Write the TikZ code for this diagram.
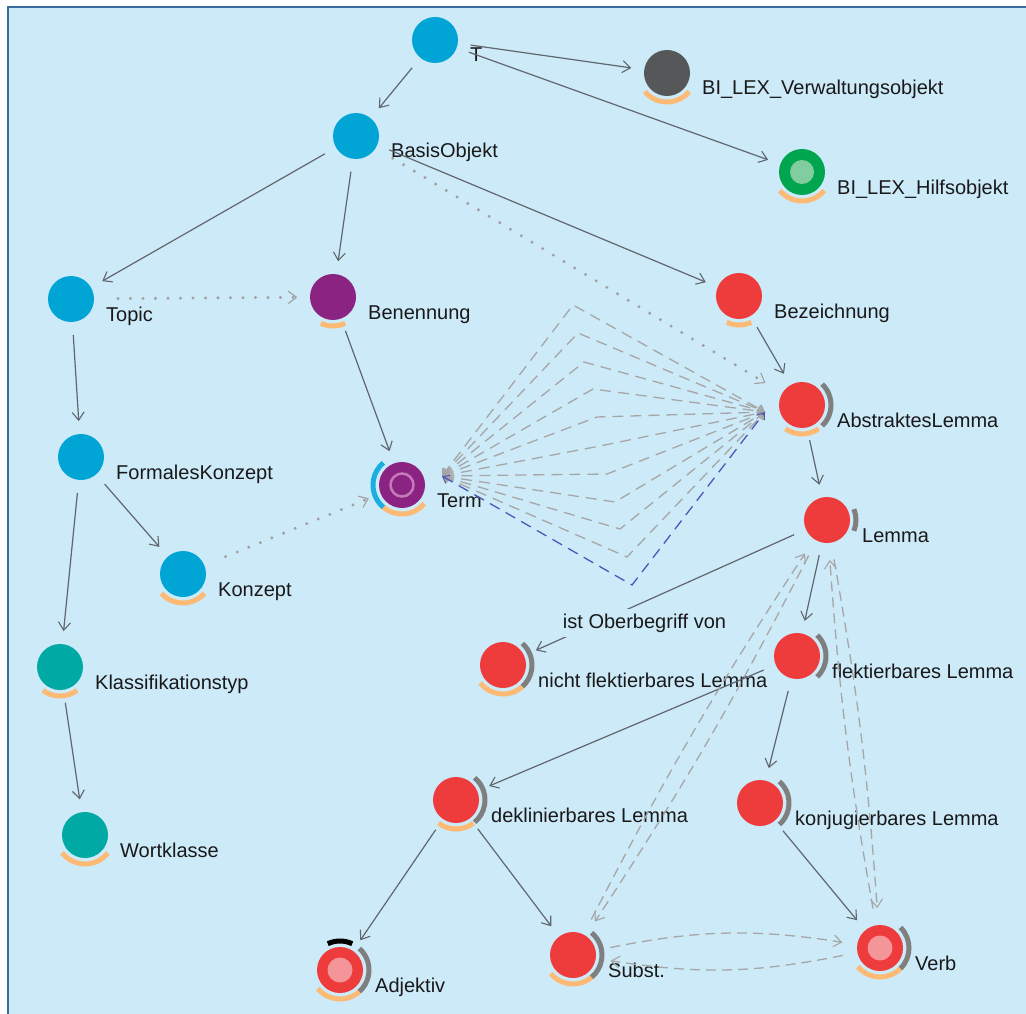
\documentclass[tikz,border=0pt]{standalone}
\usepackage{fontspec}
\setmainfont{Liberation Sans}
\usetikzlibrary{arrows.meta}
\definecolor{bgc}{HTML}{CDEAF9}
\definecolor{bordc}{HTML}{3A6E9E}
\definecolor{cBlue}{HTML}{00A5D5}
\definecolor{cDark}{HTML}{555758}
\definecolor{cGreen}{HTML}{00A54F}
\definecolor{cGreenIn}{HTML}{80CDA0}
\definecolor{cPurple}{HTML}{8B2382}
\definecolor{cRing}{HTML}{C47AB8}
\definecolor{cRed}{HTML}{EE3B3B}
\definecolor{cTeal}{HTML}{00A9A4}
\definecolor{cPink}{HTML}{F4959A}
\definecolor{aOrange}{HTML}{FDBA74}
\definecolor{aGray}{HTML}{7F7F7F}
\definecolor{aBlue}{HTML}{1AAFE0}
\definecolor{edgec}{HTML}{60666E}
\definecolor{dotc}{HTML}{A0A0A0}
\definecolor{dashc}{HTML}{A6A6A6}
\definecolor{dashblue}{HTML}{4C58B8}
\newcommand\lbfont{\fontsize{20}{24}\selectfont}
\newcommand\mkobj[5]{%
  \node[obj,fill=#4] (#1) at (#2,#3) {};
  \node[lbl] (#1-l) at (#2+35,#3+22) {#5};}
\newcommand\decarc[4]{%
  \draw[line width=5pt,#4] ([shift={(#2-#3:29)}]#1.center) arc[start angle=#2-#3, end angle=#2+#3, radius=29];}
\begin{document}
\begin{tikzpicture}[x=1pt,y=-1pt,
  obj/.style={circle,minimum size=46pt,inner sep=0pt,outer sep=13pt,draw=none},
  lbl/.style={anchor=base west,inner sep=0pt,font=\lbfont,text=black!90},
  tipA/.style={-{Straight Barb[length=8pt,width=12pt,line width=1.1pt]}},
  edge/.style={draw=edgec,line width=1.2pt,tipA},
  dotedge/.style={draw=dotc,line width=3.3pt,line cap=round,dash pattern=on 0pt off 12.5pt,
     -{Straight Barb[length=8pt,width=12pt,line width=1.1pt,round]}},
  fan/.style={draw=dashc,line width=1.3pt,dash pattern=on 11pt off 7pt,
     {Straight Barb[length=6pt,width=9pt,line width=1pt]}-{Straight Barb[length=6pt,width=9pt,line width=1pt]}},
  dashedge/.style={draw=dashc,line width=1.3pt,dash pattern=on 10pt off 6pt,
     -{Straight Barb[length=8pt,width=12pt,line width=1.1pt]},shorten >=4pt,shorten <=4pt},
  oblbl/.style={fill=bgc,font=\lbfont,text=black!90,inner xsep=6pt,inner ysep=5pt,anchor=base}
]
\useasboundingbox (0,0) rectangle (1026,1014);
\fill[white] (0,0) rectangle (1026,1014);
\fill[bgc] (8,7) rectangle (1026,1014);
\draw[bordc,line width=2pt] (8,1014) -- (8,7) -- (1026,7);

% nodes
\mkobj{T}{435}{40}{cBlue}{T}
\mkobj{VO}{667}{73}{cDark}{BI\_LEX\_Verwaltungsobjekt}
\mkobj{HO}{802}{172}{cGreen}{BI\_LEX\_Hilfsobjekt}
\mkobj{BO}{356}{136}{cBlue}{BasisObjekt}
\mkobj{TO}{71}{299}{cBlue}{Topic}
\mkobj{BE}{333}{297}{cPurple}{Benennung}
\mkobj{BZ}{739}{296}{cRed}{Bezeichnung}
\mkobj{AL}{802}{405}{cRed}{AbstraktesLemma}
\mkobj{FK}{81}{457}{cBlue}{FormalesKonzept}
\mkobj{TE}{402}{485}{cPurple}{Term}
\mkobj{KO}{183}{574}{cBlue}{Konzept}
\mkobj{LE}{827}{520}{cRed}{Lemma}
\mkobj{KT}{60}{667}{cTeal}{Klassifikationstyp}
\mkobj{WK}{85}{835}{cTeal}{Wortklasse}
\mkobj{NF}{503}{665}{cRed}{nicht flektierbares Lemma}
\mkobj{FL}{797}{656}{cRed}{flektierbares Lemma}
\mkobj{DL}{456}{800}{cRed}{deklinierbares Lemma}
\mkobj{KL}{760}{803}{cRed}{konjugierbares Lemma}
\mkobj{AD}{340}{970}{cRed}{Adjektiv}
\mkobj{SU}{573}{955}{cRed}{Subst.}
\mkobj{VE}{880}{948}{cRed}{Verb}

% inner marks
\fill[cGreenIn] (HO.center) circle (12);
\draw[cRing,line width=2.5pt] (TE.center) circle (11.5);
\fill[cPink] (AD.center) circle (12.5);
\fill[cPink] (VE.center) circle (12.5);

% orange arcs (below)
\decarc{VO}{90}{50}{aOrange}
\decarc{HO}{90}{50}{aOrange}
\decarc{BE}{90}{25}{aOrange}
\decarc{BZ}{90}{25}{aOrange}
\decarc{AL}{90}{35}{aOrange}
\decarc{TE}{90}{50}{aOrange}
\decarc{KO}{90}{48}{aOrange}
\decarc{KT}{90}{36}{aOrange}
\decarc{WK}{90}{52}{aOrange}
\decarc{NF}{90}{52}{aOrange}
\decarc{DL}{90}{37}{aOrange}
\decarc{AD}{90}{50}{aOrange}
\decarc{SU}{90}{50}{aOrange}
\decarc{VE}{90}{50}{aOrange}
% gray arcs (right)
\decarc{AL}{0}{46}{aGray}
\decarc{LE}{0}{22}{aGray}
\decarc{NF}{0}{48}{aGray}
\decarc{FL}{0}{46}{aGray}
\decarc{DL}{0}{50}{aGray}
\decarc{KL}{0}{48}{aGray}
\decarc{AD}{0}{48}{aGray}
\decarc{SU}{0}{50}{aGray}
\decarc{VE}{0}{45}{aGray}
% other arcs
\decarc{TE}{180}{50}{aBlue}
\decarc{AD}{270}{25}{black}

% solid edges
\draw[edge] (T) -- (BO);
\draw[edge] (T) -- (VO);
\draw[edge] (T) -- (HO);
\draw[edge] (BO) -- (TO);
\draw[edge] (BO) -- (BE);
\draw[edge] (BO) -- (BZ);
\draw[edge] (TO) -- (FK);
\draw[edge] (BE) -- (TE);
\draw[edge] (BZ) -- (AL);
\draw[edge] (AL) -- (LE);
\draw[edge] (FK) -- (KO);
\draw[edge] (FK) -- (KT);
\draw[edge] (KT) -- (WK);
\draw[edge] (LE) -- (NF);
\node[oblbl] (OB) at (644.5,628) {ist Oberbegriff von};
\draw[edge] (LE) -- (FL);
\draw[edge] (FL) -- (DL);
\draw[edge] (FL) -- (KL);
\draw[edge] (DL) -- (AD);
\draw[edge] (DL) -- (SU);
\draw[edge] (KL) -- (VE);

% dotted edges
\draw[dotedge,shorten <=7pt,shorten >=7pt] (BO) -- (AL);
\draw[dotedge,shorten <=11pt] (TO) -- (BE);
\draw[dotedge,shorten <=10pt] (KO) -- (TE);

% dashed fan between Term and AbstraktesLemma
\coordinate (fT) at (442,476);
\coordinate (fL) at (765,412);
\foreach \px/\py in {573/305,578/333,584/362,593/389,597/417,600/446,607/474,615/502,620/529,627/557}
  \draw[fan] (fT) -- (\px,\py) -- (fL);
\draw[fan,draw=dashblue] (fT) -- (632,585) -- (fL);

% dashed curved pairs
\draw[dashedge] (SU) to[bend left=3] (LE);
\draw[dashedge] (LE) to[bend left=3] (SU);
\draw[dashedge] (LE) to[bend left=3] (VE);
\draw[dashedge] (VE) to[bend left=3] (LE);
\draw[dashedge,shorten >=2pt,shorten <=2pt] (SU) to[bend left=10] (VE);
\draw[dashedge,shorten >=2pt,shorten <=2pt] (VE) to[bend left=10] (SU);
\end{tikzpicture}
\end{document}
